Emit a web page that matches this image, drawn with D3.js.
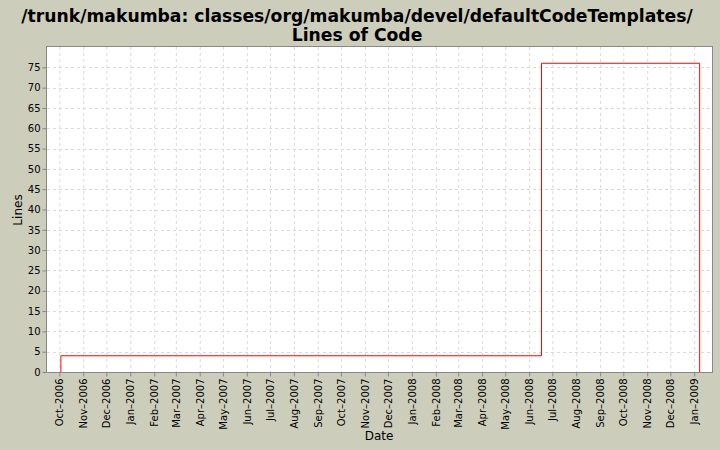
<!DOCTYPE html>
<html><head><meta charset="utf-8">
<script src="https://cdn.jsdelivr.net/npm/d3@7"></script>
<style>body{margin:0;background:#cdcdbb;}svg{display:block;font-family:"DejaVu Sans",sans-serif;}</style>
</head><body>
<svg id="c" width="720" height="450"></svg>
<script>
const titleLines = ["/trunk/makumba: classes/org/makumba/devel/defaultCodeTemplates/", "Lines of Code"];
const dates = ["2006-10-03", "2006-10-03", "2008-06-17", "2009-01-08"];
const values = [0, 4, 76, 0];
const yTicks = [0,5,10,15,20,25,30,35,40,45,50,55,60,65,70,75];
const xTickMonths = ["2006-10-01","2006-11-01","2006-12-01","2007-01-01","2007-02-01","2007-03-01","2007-04-01","2007-05-01","2007-06-01","2007-07-01","2007-08-01","2007-09-01","2007-10-01","2007-11-01","2007-12-01","2008-01-01","2008-02-01","2008-03-01","2008-04-01","2008-05-01","2008-06-01","2008-07-01","2008-08-01","2008-09-01","2008-10-01","2008-11-01","2008-12-01","2009-01-01"];
const xDomain = ["2006-09-15", "2009-01-24"];
const yDomain = [0, 80];

const parse = d3.timeParse("%Y-%m-%d");
const svg = d3.select("#c");
const L = 47, T = 47, R = 712, B = 372;
const x = d3.scaleTime().domain(xDomain.map(parse)).range([L, R]);
const y = d3.scaleLinear().domain(yDomain).range([B, T]);

svg.append("rect").attr("width",720).attr("height",450).attr("fill","#cdcdbb");
svg.append("rect").attr("x",L).attr("y",T).attr("width",R-L).attr("height",B-T).attr("fill","#fff");

const g = svg.append("g");
g.selectAll("line.gx").data(xTickMonths.map(parse)).enter().append("line")
  .attr("x1",d=>x(d)+0.5).attr("x2",d=>x(d)+0.5).attr("y1",T).attr("y2",B)
  .attr("stroke","#dadada").attr("stroke-dasharray","3,3").attr("stroke-width",1);
g.selectAll("line.gy").data(yTicks).enter().append("line")
  .attr("y1",d=>Math.round(y(d))+0.5).attr("y2",d=>Math.round(y(d))+0.5).attr("x1",L).attr("x2",R)
  .attr("stroke","#dadada").attr("stroke-dasharray","3,3").attr("stroke-width",1);

const pts = dates.map((d,i)=>[parse(d), values[i]]);
const line = d3.line().x(d=>x(d[0])).y(d=>y(d[1])).curve(d3.curveStepAfter);
svg.append("path").attr("d", line(pts)).attr("fill","none").attr("stroke","#ff0000").attr("stroke-width",1);

svg.append("rect").attr("x",L-0.5).attr("y",T-0.5).attr("width",R-L+1).attr("height",B-T+1)
  .attr("fill","none").attr("stroke","#888").attr("stroke-width",1);

const yAxis = d3.axisLeft(y).tickValues(yTicks).tickSize(4).tickPadding(2);
const ya = svg.append("g").attr("transform",`translate(${L-0.5},0)`).call(yAxis);
ya.select(".domain").remove();
ya.selectAll(".tick line").attr("stroke","#888");
ya.selectAll("text").attr("font-size",10).attr("fill","#000").attr("font-family","DejaVu Sans");

const xAxis = d3.axisBottom(x).tickValues(xTickMonths.map(parse)).tickFormat(d3.timeFormat("%b-%Y")).tickSize(4).tickPadding(2);
const xa = svg.append("g").attr("transform",`translate(0,${B+0.5})`).call(xAxis);
xa.select(".domain").remove();
xa.selectAll(".tick line").attr("stroke","#888");
xa.selectAll("text").attr("font-size",10).attr("fill","#000").attr("font-family","DejaVu Sans")
  .attr("transform","rotate(-90)").attr("text-anchor","end").attr("dx",-6).attr("dy",0).attr("y",0).attr("x",0)
  .attr("dominant-baseline","central");
xa.selectAll("text").text(function(){return d3.select(this).text().replace("-","\u2013");});

svg.selectAll("text.title").data(titleLines).enter().append("text")
  .attr("x",357).attr("y",(d,i)=>22+i*19).attr("text-anchor","middle")
  .attr("font-size",17.2).attr("font-weight","bold").attr("fill","#000").text(d=>d);

svg.append("text").attr("x",379).attr("y",440).attr("text-anchor","middle").attr("font-size",12).text("Date");
svg.append("text").attr("transform","translate(22,210) rotate(-90)").attr("text-anchor","middle").attr("font-size",12).text("Lines");
</script>
</body></html>
